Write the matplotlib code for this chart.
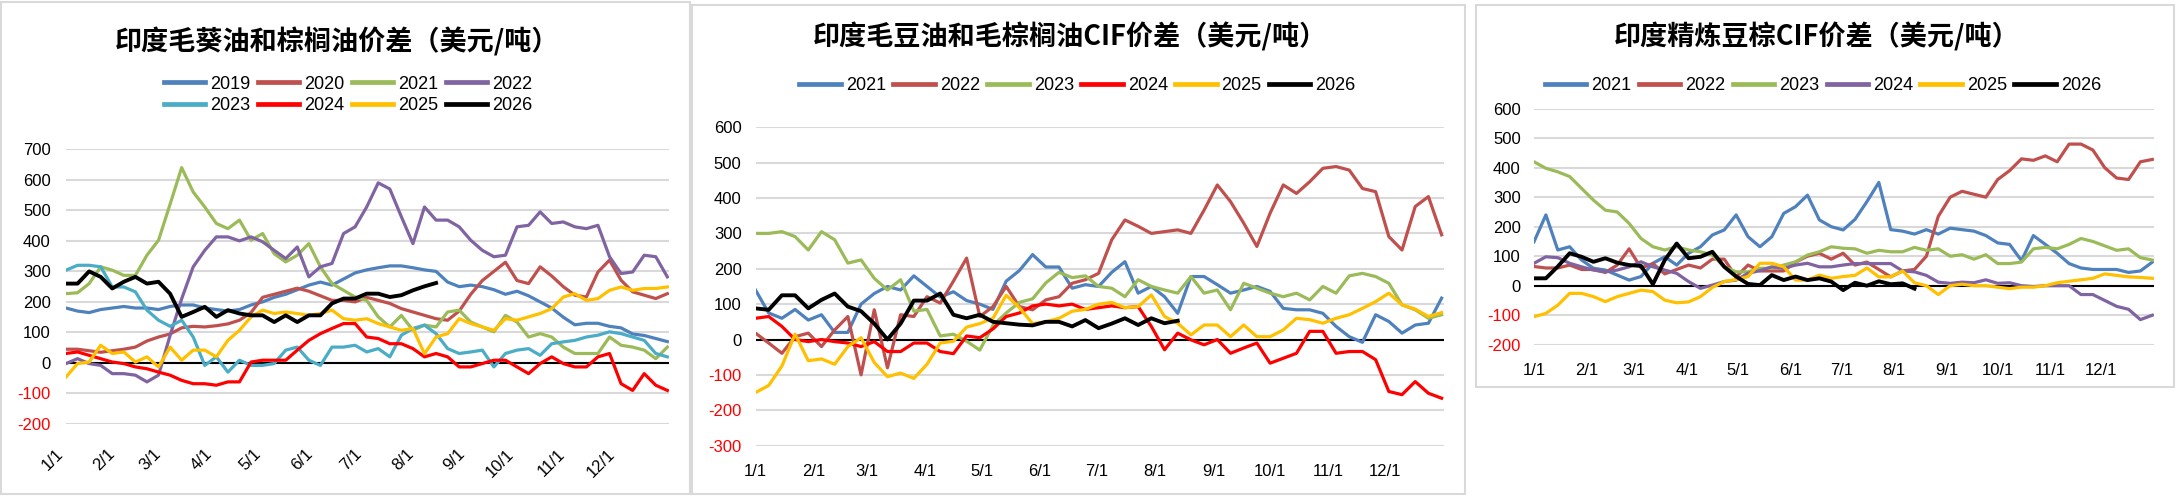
import numpy as np
import matplotlib.pyplot as plt
from matplotlib.lines import Line2D
from matplotlib.patches import Rectangle

plt.rcParams['font.family'] = ['Liberation Sans', 'Noto Sans CJK SC', 'DejaVu Sans']

W, H = 2176, 496

# weekly sample points (day of year)
days = np.arange(0, 365, 7)
month_starts = [0, 31, 59, 90, 120, 151, 181, 212, 243, 273, 304, 334]
month_labels = ['%d/1' % m for m in range(1, 13)]

# ---------- panel 1: sunflower oil vs palm oil ----------
sun_2019 = [180, 170, 165, 175, 180, 185, 180, 180, 175, 185, 190, 190, 180, 175, 170, 175, 190, 200,
            215, 225, 240, 255, 265, 255, 275, 295, 305, 312, 318, 318, 312, 305, 300, 265, 250, 255,
            250, 240, 225, 235, 220, 200, 180, 150, 125, 130, 130, 120, 115, 95, 90, 80, 70]
sun_2020 = [45, 45, 40, 35, 40, 45, 52, 72, 85, 95, 115, 120, 118, 122, 128, 140, 165, 215, 225, 235,
            245, 235, 220, 205, 205, 200, 215, 205, 195, 178, 167, 156, 145, 140, 170, 225, 270, 300,
            330, 270, 260, 315, 285, 250, 222, 216, 298, 337, 271, 233, 222, 211, 227]
sun_2021 = [227, 230, 260, 315, 304, 287, 287, 353, 402, 520, 640, 560, 511, 457, 440, 468, 402, 424,
            358, 331, 353, 391, 315, 260, 238, 216, 205, 151, 118, 156, 107, 124, 118, 167, 173, 134,
            118, 102, 156, 134, 85, 96, 85, 52, 31, 31, 31, 85, 58, 52, 42, 14, 52]
sun_2022 = [-2, 14, -2, -8, -35, -35, -40, -62, -40, 90, 210, 315, 369, 413, 413, 400, 413, 397, 369,
            342, 380, 282, 315, 326, 424, 446, 511, 590, 570, 479, 391, 511, 468, 468, 446, 402, 369,
            348, 353, 446, 451, 495, 457, 462, 446, 440, 451, 348, 293, 298, 353, 348, 282]
sun_2023 = [304, 320, 320, 315, 249, 249, 233, 173, 140, 120, 140, 85, -8, 20, -30, 9, -8, -8, -2, 42,
            52, 9, -8, 52, 52, 58, 36, 47, 20, 91, 113, 124, 96, 47, 31, 36, 42, -13, 31, 42, 47, 25,
            63, 69, 74, 85, 91, 102, 96, 85, 74, 31, 20]
sun_2024 = [31, 36, 25, 14, 3, -2, -13, -19, -30, -40, -57, -68, -68, -73, -62, -62, 3, 9, 9, 9, 42,
            74, 96, 113, 129, 129, 85, 80, 63, 63, 47, 20, 31, 20, -13, -13, -2, 9, 9, -13, -35, -2,
            20, -2, -13, -13, 20, 31, -68, -90, -35, -73, -90]
sun_2025 = [-46, -2, 3, 58, 31, 36, 3, 20, -13, 52, 9, 42, 42, 20, 74, 107, 151, 173, 162, 167, 162,
            156, 162, 173, 145, 140, 145, 129, 118, 107, 113, 30, 85, 96, 145, 129, 118, 107, 145,
            140, 151, 162, 178, 216, 227, 205, 211, 238, 249, 238, 244, 244, 249]
sun_2026 = [260, 260, 300, 282, 244, 266, 282, 260, 266, 227, 151, 167, 184, 151, 173, 162, 156, 156,
            134, 156, 134, 156, 156, 195, 211, 211, 227, 227, 216, 222, 238, 251, 262]

# ---------- panel 2: crude soy oil vs crude palm oil CIF ----------
soy_2021 = [140, 75, 60, 85, 55, 70, 20, 20, 100, 130, 150, 140, 180, 150, 120, 135, 110, 100, 85,
            165, 195, 240, 205, 205, 145, 155, 150, 190, 220, 131, 150, 121, 74, 178, 178, 155, 131,
            140, 150, 136, 88, 84, 84, 74, 37, 8, -8, 70, 51, 18, 41, 46, 117]
soy_2022 = [18, -10, -39, 8, 18, -20, 27, 65, -100, 84, -80, 70, 65, 121, 103, 165, 230, 65, 93, 150,
            93, 84, 112, 121, 159, 169, 187, 282, 338, 320, 300, 305, 310, 300, 366, 437, 390, 329,
            263, 357, 437, 413, 446, 484, 489, 479, 427, 418, 291, 253, 376, 404, 296]
soy_2023 = [300, 300, 305, 291, 253, 305, 282, 216, 225, 173, 140, 169, 80, 85, 10, 15, -5, -30, 40,
            75, 105, 115, 160, 190, 175, 180, 150, 145, 121, 169, 150, 140, 131, 178, 131, 140, 84,
            159, 145, 131, 121, 131, 112, 150, 131, 180, 187, 178, 159, 98, 84, 60, 70]
soy_2024 = [60, 65, 37, 0, -6, 0, -6, -10, -20, -6, -34, -34, -10, -10, -34, -40, 10, 5, 30, 65, 75,
            95, 100, 95, 100, 85, 90, 95, 90, 93, 37, -29, 18, -1, -15, 0, -39, -24, -10, -67, -53,
            -39, 23, 23, -39, -34, -34, -57, -147, -156, -119, -152, -166]
soy_2025 = [-150, -130, -75, 15, -60, -55, -70, -20, 5, -65, -105, -95, -110, -70, -10, -5, 35, 45,
            60, 125, 90, 45, 50, 60, 80, 85, 100, 105, 90, 93, 126, 65, 46, 13, 41, 41, 8, 41, 8, 8,
            27, 60, 56, 46, 60, 70, 88, 107, 131, 98, 86, 65, 76]
soy_2026 = [88, 84, 125, 125, 88, 112, 130, 93, 80, 45, 0, 45, 110, 110, 130, 70, 60, 70, 50, 46, 42,
            40, 50, 50, 37, 55, 32, 45, 60, 41, 60, 46, 53]

# ---------- panel 3: refined soy oil vs palm CIF ----------
ref_2021 = [149, 240, 121, 132, 87, 59, 53, 36, 19, 31, 76, 98, 70, 110, 132, 172, 189, 240, 166,
            132, 166, 245, 268, 307, 223, 200, 189, 225, 285, 350, 190, 185, 175, 190, 175, 195, 190,
            185, 170, 145, 140, 85, 170, 140, 110, 75, 60, 55, 55, 55, 45, 50, 80]
ref_2022 = [65, 60, 60, 70, 55, 55, 45, 70, 125, 60, 75, 40, 55, 70, 60, 90, 90, 30, 70, 50, 50, 50,
            80, 100, 110, 90, 110, 70, 80, 55, 30, 50, 55, 100, 235, 300, 320, 310, 300, 360, 390,
            430, 425, 440, 420, 480, 480, 460, 400, 365, 360, 420, 428]
ref_2023 = [420, 398, 386, 370, 330, 290, 256, 250, 211, 160, 132, 121, 132, 121, 115, 104, 64, 47,
            47, 59, 59, 70, 81, 104, 115, 132, 127, 125, 110, 120, 115, 115, 130, 120, 125, 100, 105,
            90, 105, 75, 75, 80, 125, 130, 125, 140, 160, 150, 135, 120, 125, 95, 87]
ref_2024 = [76, 98, 95, 76, 64, 53, 47, 53, 64, 81, 64, 53, 42, 14, -9, 2, 14, 19, 42, 51, 64, 59, 70,
            76, 64, 64, 70, 75, 75, 75, 75, 50, 47, 35, 12, 8, 12, 10, 20, 8, 10, 0, -3, 0, 0, 0, -30,
            -30, -50, -70, -80, -115, -100]
ref_2025 = [-105, -94, -66, -26, -26, -37, -54, -37, -26, -15, -20, -49, -58, -55, -37, -6, 14, 21,
            31, 76, 76, 64, 19, 19, 36, 25, 31, 35, 60, 30, 30, 50, 10, 0, -30, 0, 5, 0, 0, -5, -10,
            -5, -5, 0, 10, 15, 20, 25, 40, 35, 30, 28, 25]
ref_2026 = [25, 25, 65, 110, 98, 81, 93, 78, 70, 67, 5, 87, 143, 93, 98, 115, 64, 31, 6, 2, 36, 19,
            31, 19, 25, 14, -15, 10, 0, 15, 5, 8, -10]

BLUE, BROWN, GREEN, PURPLE = '#4F81BD', '#C0504D', '#9BBB59', '#8064A2'
CYAN, RED, GOLD, BLACK = '#4BACC6', '#FF0000', '#FFC000', '#000000'
GRID = '#D9D9D9'


def px_rect(x0, y0, x1, y1):
    """Pixel box (top-left origin) -> figure fraction [left, bottom, width, height]."""
    return [x0 / W, 1 - y1 / H, (x1 - x0) / W, (y1 - y0) / H]


def draw_panel(ax, series, ylim, rotate, ypad, xpad):
    for label, values, color in series:
        lw = 2.8 if color == BLACK else 2.3
        ax.plot(days[:len(values)], values, color=color, lw=lw, label=label,
                solid_joinstyle='round', zorder=3)
    ax.axhline(0, color='black', lw=1.5, zorder=2)
    ax.set_xlim(0, 365)
    ax.set_ylim(*ylim)
    yt = np.arange(ylim[0], ylim[1] + 1, 100)
    ax.set_yticks(yt)
    ax.set_yticklabels([str(v) for v in yt])
    for t, v in zip(ax.get_yticklabels(), yt):
        t.set_color(RED if v < 0 else 'black')
    ax.yaxis.grid(True, color=GRID, lw=1.5)
    ax.set_axisbelow(True)
    for s in ax.spines.values():
        s.set_visible(False)
    ax.set_xticks(month_starts)
    if rotate:
        ax.set_xticklabels(month_labels, rotation=45, ha='right')
    else:
        ax.set_xticklabels(month_labels)
    ax.tick_params(length=0, labelsize=12)
    ax.tick_params(axis='y', pad=ypad)
    ax.tick_params(axis='x', pad=xpad)


def add_legend(fig, series, cx, cy, ncol):
    # matplotlib fills legend columns first; reorder so entries run along rows like Excel
    nrow = int(np.ceil(len(series) / ncol))
    order = [r * ncol + c for c in range(ncol) for r in range(nrow) if r * ncol + c < len(series)]
    handles = [Line2D([], [], color=series[i][2], lw=3.4) for i in order]
    labels = [series[i][0] for i in order]
    fig.legend(handles, labels, loc='center', bbox_to_anchor=(cx / W, 1 - cy / H), ncol=ncol,
               frameon=False, fontsize=13, handlelength=2.3, handletextpad=0.28,
               columnspacing=0.4, labelspacing=0.25, borderpad=0, borderaxespad=0)


fig = plt.figure(figsize=(W / 100, H / 100), dpi=100)

# panel frames
for x0, y0, x1, y1 in [(1, 2, 690, 494), (692, 5, 1465, 494), (1476, 5, 2174, 387)]:
    fig.patches.append(Rectangle((x0 / W, 1 - y1 / H), (x1 - x0) / W, (y1 - y0) / H,
                                 transform=fig.transFigure, fill=False, edgecolor=GRID, lw=1.5))

title_kw = dict(ha='center', va='center', fontsize=19.5, fontweight='bold',
                family=['Noto Sans CJK SC', 'DejaVu Sans'])

# panel 1
p1 = [('2019', sun_2019, BLUE), ('2020', sun_2020, BROWN), ('2021', sun_2021, GREEN),
      ('2022', sun_2022, PURPLE), ('2023', sun_2023, CYAN), ('2024', sun_2024, RED),
      ('2025', sun_2025, GOLD), ('2026', sun_2026, BLACK)]
ax1 = fig.add_axes(px_rect(66, 149.3, 669, 424))
draw_panel(ax1, p1, (-200, 700), True, 11, 16)
fig.text(337 / W, 1 - 41.7 / H, '印度毛葵油和棕榈油价差（美元/吨）', **title_kw)
add_legend(fig, p1, 348, 95, 4)

# panel 2
p2 = [('2021', soy_2021, BLUE), ('2022', soy_2022, BROWN), ('2023', soy_2023, GREEN),
      ('2024', soy_2024, RED), ('2025', soy_2025, GOLD), ('2026', soy_2026, BLACK)]
ax2 = fig.add_axes(px_rect(755.5, 127.3, 1443.5, 445.6))
draw_panel(ax2, p2, (-300, 600), False, 10, 13)
fig.text(1070.5 / W, 1 - 36.7 / H, '印度毛豆油和毛棕榈油CIF价差（美元/吨）', **title_kw)
add_legend(fig, p2, 1077.5, 85.6, 6)

# panel 3
p3 = [('2021', ref_2021, BLUE), ('2022', ref_2022, BROWN), ('2023', ref_2023, GREEN),
      ('2024', ref_2024, PURPLE), ('2025', ref_2025, GOLD), ('2026', ref_2026, BLACK)]
ax3 = fig.add_axes(px_rect(1534, 108.7, 2154, 344.7))
draw_panel(ax3, p3, (-200, 600), False, 9.5, 13)
fig.text(1816.8 / W, 1 - 36.7 / H, '印度精炼豆棕CIF价差（美元/吨）', **title_kw)
add_legend(fig, p3, 1823, 85.7, 6)

fig.savefig('out.png', dpi=100)
plt.close(fig)
